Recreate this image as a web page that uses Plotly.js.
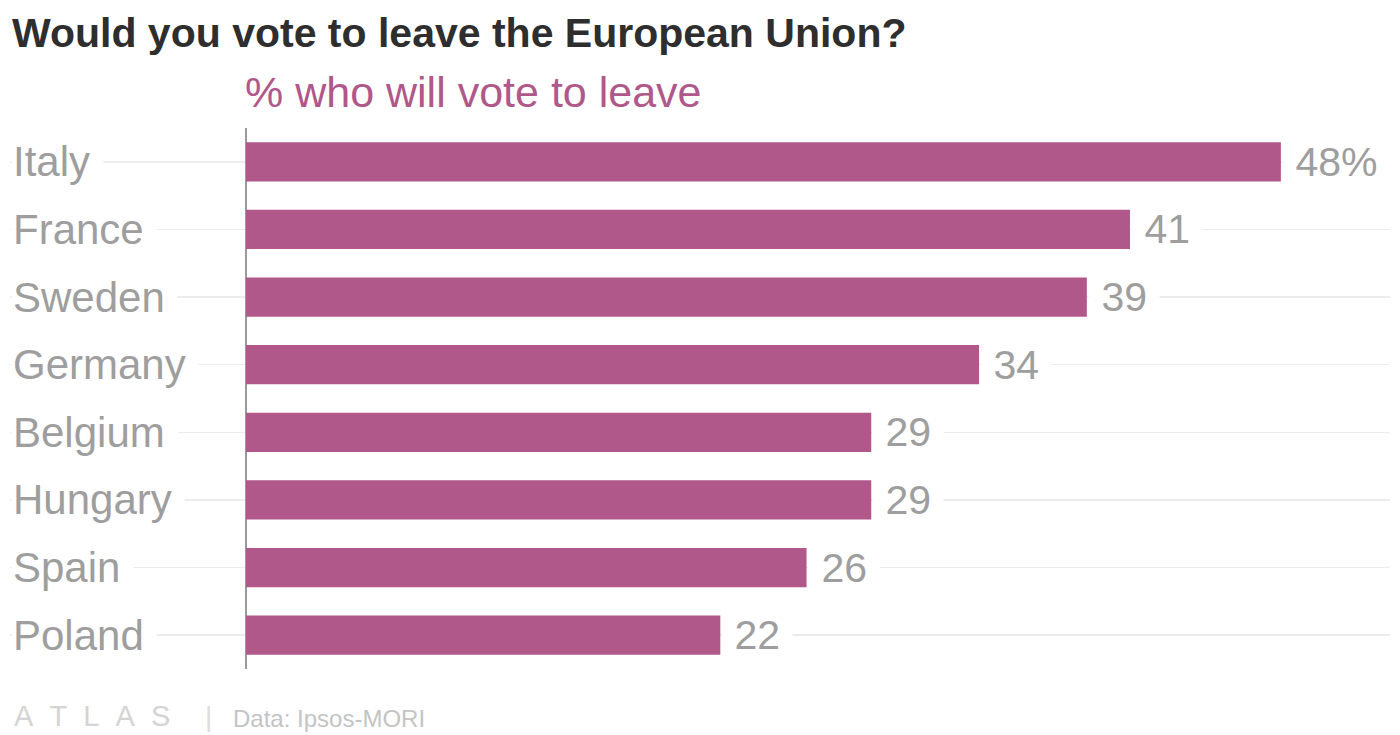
<!DOCTYPE html>
<html>
<head>
<meta charset="utf-8">
<script src="https://cdn.plot.ly/plotly-3.0.1.min.js"></script>
<style>
  html, body { margin: 0; padding: 0; background: #fff; }
  #chart { width: 1400px; height: 735px; }
</style>
</head>
<body>
<div id="chart"></div>
<script>
// ---- data ----
const countries = ["Italy", "France", "Sweden", "Germany", "Belgium", "Hungary", "Spain", "Poland"];
const leavePct = [48, 41, 39, 34, 29, 29, 26, 22];
const valueLabels = ["48%", "41", "39", "34", "29", "29", "26", "22"];

const titleText = "Would you vote to leave the European Union?";
const subtitleText = "% who will vote to leave";
const sourceText = "Data: Ipsos-MORI";

// ---- styling ----
const W = 1400, H = 735;
const M = { l: 10, r: 10, t: 128, b: 66 };
const plotW = W - M.l - M.r;
const plotH = H - M.t - M.b;
const zeroPx = 246;            // pixel position of the value axis origin
const pxPerUnit = 21.56;
const xMin = -(zeroPx - M.l) / pxPerUnit;
const xMax = (W - M.r - zeroPx) / pxPerUnit;

const barColor = "#b0588a";
const labelGray = "#9e9e9e";
const FONT = "Liberation Sans, Arial, sans-serif";

const px2paperX = p => (p - M.l) / plotW;
const px2paperY = p => (H - M.b - p) / plotH;

const trace = {
  type: "bar",
  orientation: "h",
  y: countries,
  x: leavePct,
  width: 0.58,
  marker: { color: barColor },
  hoverinfo: "none"
};

const annotations = [];

// category labels (white box hides gridline behind text)
countries.forEach((c, i) => {
  annotations.push({
    xref: "paper", yref: "y",
    x: px2paperX(12), y: c,
    xanchor: "left", yanchor: "middle",
    text: c + "\u00a0",
    showarrow: false,
    bgcolor: "#ffffff",
    borderpad: 1,
    xshift: -1,
    font: { family: FONT, size: 42, color: labelGray }
  });
});

// value labels
countries.forEach((c, i) => {
  annotations.push({
    xref: "x", yref: "y",
    x: leavePct[i], y: c,
    xanchor: "left", yanchor: "middle",
    text: "\u00a0" + valueLabels[i] + "\u00a0",
    showarrow: false,
    bgcolor: "#ffffff",
    borderpad: 1,
    xshift: 1,
    font: { family: FONT, size: 41, color: labelGray }
  });
});

// subtitle
annotations.push({
  xref: "x", yref: "paper",
  x: 0, y: px2paperY(92),
  xanchor: "left", yanchor: "middle",
  text: subtitleText,
  showarrow: false,
  xshift: -3,
  font: { family: FONT, size: 43, color: barColor }
});

// footer
annotations.push({
  xref: "paper", yref: "paper",
  x: px2paperX(12), y: px2paperY(716),
  xanchor: "left", yanchor: "middle",
  text: "A\u00a0\u00a0T\u00a0\u00a0L\u00a0\u00a0A\u00a0\u00a0S",
  showarrow: false,
  font: { family: FONT, size: 29, color: "#d4d4d4" }
});
annotations.push({
  xref: "paper", yref: "paper",
  x: px2paperX(208), y: px2paperY(716),
  xanchor: "center", yanchor: "middle",
  text: "|",
  showarrow: false,
  font: { family: FONT, size: 28, color: "#dddddd" }
});
annotations.push({
  xref: "paper", yref: "paper",
  x: px2paperX(231), y: px2paperY(718),
  xanchor: "left", yanchor: "middle",
  text: sourceText,
  showarrow: false,
  font: { family: FONT, size: 24, color: "#c4c4c4" }
});

const layout = {
  width: W, height: H,
  margin: M,
  paper_bgcolor: "#ffffff",
  plot_bgcolor: "#ffffff",
  showlegend: false,
  title: {
    text: "<b>" + titleText + "</b>",
    xref: "container", yref: "container",
    x: 12 / W, xanchor: "left",
    y: 1 - 33 / H, yanchor: "middle",
    font: { family: FONT, size: 41, color: "#2e2e2e" }
  },
  xaxis: {
    range: [xMin, xMax],
    showgrid: false,
    zeroline: true,
    zerolinecolor: "#9a9a9a",
    zerolinewidth: 1.5,
    showticklabels: false,
    showline: false,
    fixedrange: true
  },
  yaxis: {
    type: "category",
    categoryorder: "array",
    categoryarray: countries,
    autorange: "reversed",
    showgrid: true,
    gridcolor: "#ececec",
    gridwidth: 1.5,
    showticklabels: false,
    zeroline: false,
    showline: false,
    fixedrange: true
  },
  annotations: annotations
};

Plotly.newPlot("chart", [trace], layout, { displayModeBar: false, staticPlot: true });
</script>
</body>
</html>
